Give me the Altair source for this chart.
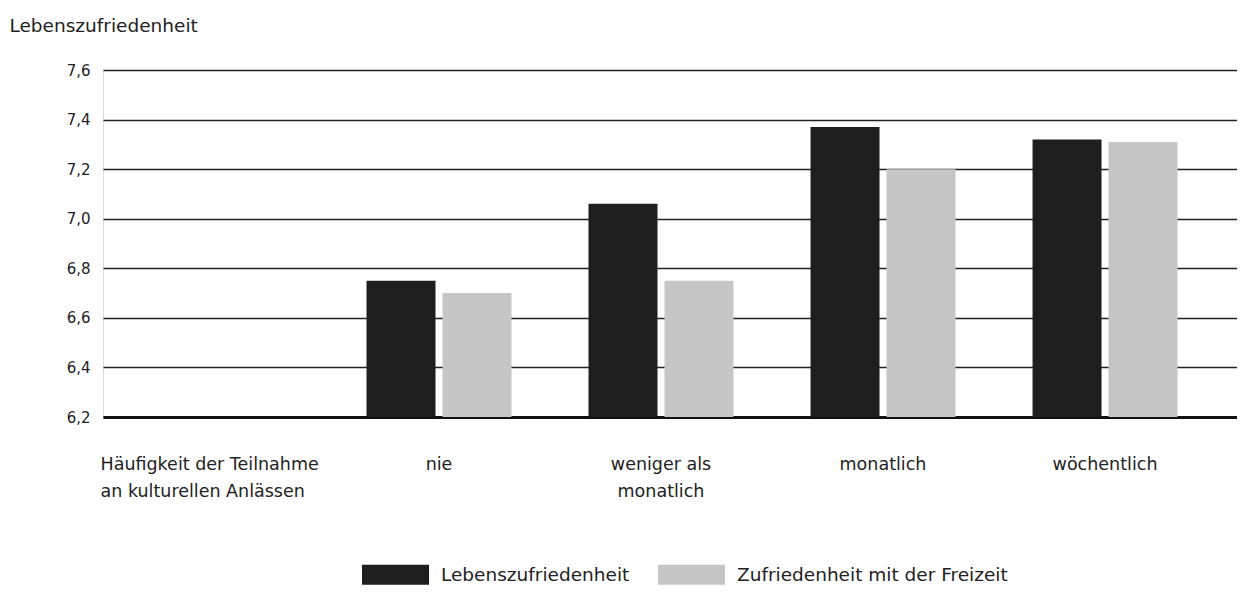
import altair as alt
import pandas as pd

# ---- data ----
axis_title_lines = ["Häufigkeit der Teilnahme", "an kulturellen Anlässen"]
categories = ["nie", "weniger als monatlich", "monatlich", "wöchentlich"]
series = ["Lebenszufriedenheit", "Zufriedenheit mit der Freizeit"]
lebenszufriedenheit = [6.75, 7.06, 7.37, 7.32]
freizeit = [6.70, 6.75, 7.20, 7.31]
y_ticks = [6.2, 6.4, 6.6, 6.8, 7.0, 7.2, 7.4, 7.6]

rows = []
for c, a, b in zip(categories, lebenszufriedenheit, freizeit):
    rows.append({"Kategorie": c, "Reihe": series[0], "Wert": a})
    rows.append({"Kategorie": c, "Reihe": series[1], "Wert": b})
df = pd.DataFrame(rows)

# first (empty) band holds the axis title, as in the reference
x_domain = [" "] + categories
label_expr = (
    "datum.value == 'weniger als monatlich' ? ['weniger als', 'monatlich'] : "
    "datum.value == ' ' ? '' : datum.label"
)

FONT = "DejaVu Sans"
TXT = "#222222"
rect_path = "M-1,-0.3H1V0.3H-1Z"

chart = alt.Chart(df).mark_bar().encode(
    x=alt.X(
        "Kategorie:N",
        scale=alt.Scale(domain=x_domain, paddingInner=0, paddingOuter=0.054, align=0.125),
        sort=x_domain,
        axis=alt.Axis(
            title=axis_title_lines,
            titleFont=FONT,
            titleFontSize=17.5,
            titleFontWeight="normal",
            titleColor=TXT,
            titleAnchor="start",
            titleAlign="left",
            titleBaseline="top",
            titleLineHeight=27,
            titleX=-3,
            titleY=38,
            labelAngle=0,
            ticks=False,
            domain=True,
            domainColor="#111111",
            domainWidth=3,
            labelExpr=label_expr,
            labelFont=FONT,
            labelFontSize=17.5,
            labelColor=TXT,
            labelBaseline="top",
            labelPadding=38,
            labelLineHeight=27,
        ),
    ),
    xOffset=alt.XOffset(
        "Reihe:N",
        sort=series,
        scale=alt.Scale(domain=series, paddingInner=0.092, paddingOuter=0.507),
    ),
    y=alt.Y(
        "Wert:Q",
        scale=alt.Scale(domain=[6.2, 7.6], zero=False, nice=False),
        axis=alt.Axis(
            values=y_ticks,
            labelExpr="replace(format(datum.value, '.1f'), '.', ',')",
            grid=True,
            gridColor="#222222",
            gridWidth=1.5,
            domain=False,
            ticks=False,
            labelPadding=13,
            labelFont=FONT,
            labelFontSize=15,
            labelColor=TXT,
            title="Lebenszufriedenheit",
            titleFont=FONT,
            titleFontSize=18.5,
            titleFontWeight="normal",
            titleColor=TXT,
            titleAngle=0,
            titleAlign="left",
            titleBaseline="middle",
            titleX=-94,
            titleY=-45,
        ),
    ),
    y2=alt.datum(6.2),
    color=alt.Color(
        "Reihe:N",
        sort=series,
        scale=alt.Scale(domain=series, range=["#1e1e1e", "#c6c6c6"]),
        legend=alt.Legend(
            title=None,
            orient="none",
            direction="horizontal",
            legendX=259,
            legendY=471,
            symbolType=rect_path,
            symbolSize=4489,
            symbolStrokeWidth=0,
            symbolOpacity=1,
            labelFont=FONT,
            labelFontSize=18.5,
            labelColor=TXT,
            labelOffset=12,
            labelLimit=500,
            columnPadding=28,
        ),
    ),
).properties(
    width=1134,
    height=347,
    autosize=alt.AutoSizeParams(type="none"),
    padding={"left": 95, "top": 62, "right": 0, "bottom": 168},
).configure_view(stroke=None).configure(background="white")

chart.save("out.html", embed_options={"renderer": "svg", "actions": False})
